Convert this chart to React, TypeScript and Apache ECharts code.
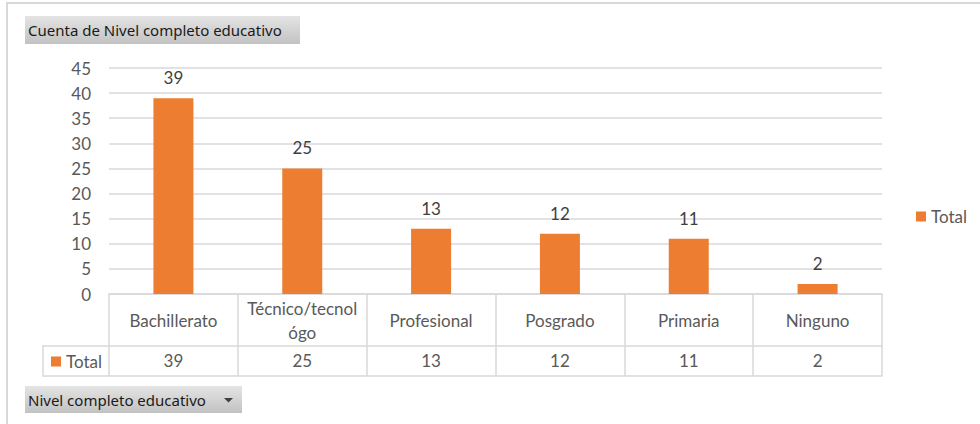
import React, { useEffect, useRef } from "react";
import * as echarts from "echarts";

const categories = ["Bachillerato", "Técnico/tecnológo", "Profesional", "Posgrado", "Primaria", "Ninguno"];
const totals = [39, 25, 13, 12, 11, 2];
const seriesName = "Total";
const yMin = 0;
const yMax = 45;
const yInterval = 5;
const fieldTitle = "Cuenta de Nivel completo educativo";
const axisFieldTitle = "Nivel completo educativo";

const FONT = "Lato, 'Liberation Sans', sans-serif";
const UI_FONT = "'Noto Sans', 'Open Sans', sans-serif";
const GRID_COLOR = "#d9d9d9";
const TEXT_COLOR = "#595959";
const FS = 17;

export default function App() {
  const ref = useRef<HTMLDivElement>(null);

  useEffect(() => {
    if (!ref.current) return;
    const chart = echarts.init(ref.current, undefined, { renderer: "svg" });
    const btnGradient = new echarts.graphic.LinearGradient(0, 0, 0, 1, [
      { offset: 0, color: "#e4e4e4" },
      { offset: 1, color: "#c2c2c2" },
    ]);
    const btnGradient2 = new echarts.graphic.LinearGradient(0, 0, 0, 1, [
      { offset: 0, color: "#e4e4e4" },
      { offset: 1, color: "#c2c2c2" },
    ]);
    const lineStyle = { stroke: GRID_COLOR, lineWidth: 1.5 };
    chart.setOption({
      animation: false,
      backgroundColor: "#ffffff",
      textStyle: { fontFamily: FONT },
      grid: { left: 109, right: 98, top: 68, bottom: 130, containLabel: false },
      legend: [
        {
          data: [seriesName],
          left: 911,
          top: 203,
          itemWidth: 10,
          itemHeight: 10,
          icon: "rect",
          textStyle: { fontSize: FS, color: TEXT_COLOR, fontFamily: FONT },
          selectedMode: false,
        },
        {
          data: [seriesName],
          left: 46,
          top: 348,
          itemWidth: 10,
          itemHeight: 10,
          icon: "rect",
          textStyle: { fontSize: FS, color: TEXT_COLOR, fontFamily: FONT },
          selectedMode: false,
        },
      ],
      xAxis: [
        {
          type: "category",
          data: categories,
          position: "bottom",
          axisLine: { show: true, lineStyle: { color: GRID_COLOR, width: 1.5 } },
          axisTick: { show: true, length: 82, lineStyle: { color: GRID_COLOR, width: 1.5 } },
          axisLabel: {
            margin: 26,
            verticalAlign: "middle",
            fontSize: FS,
            lineHeight: 24,
            color: TEXT_COLOR,
            fontFamily: FONT,
            interval: 0,
            formatter: (v: string) => (v === "Técnico/tecnológo" ? "Técnico/tecnol\nógo" : v),
          },
        },
        {
          type: "category",
          data: categories,
          position: "bottom",
          offset: 52,
          axisLine: { show: true, lineStyle: { color: GRID_COLOR, width: 1.5 } },
          axisTick: { show: false },
          axisLabel: {
            margin: 14,
            verticalAlign: "middle",
            fontSize: FS,
            color: TEXT_COLOR,
            fontFamily: FONT,
            interval: 0,
            formatter: (_v: string, i: number) => String(totals[i]),
          },
        },
        {
          type: "category",
          data: categories,
          position: "bottom",
          offset: 82,
          axisLine: { show: true, lineStyle: { color: GRID_COLOR, width: 1.5 } },
          axisTick: { show: false },
          axisLabel: { show: false },
        },
      ],
      yAxis: {
        type: "value",
        min: yMin,
        max: yMax,
        interval: yInterval,
        axisLine: { show: false },
        axisTick: { show: false },
        axisLabel: { fontSize: FS, color: TEXT_COLOR, margin: 18, fontFamily: FONT },
        splitLine: { lineStyle: { color: GRID_COLOR, width: 1.5 } },
      },
      series: [
        {
          name: seriesName,
          type: "bar",
          xAxisIndex: 0,
          data: totals,
          barWidth: 40,
          itemStyle: { color: "#ED7D31" },
          label: {
            show: true,
            position: "top",
            distance: 12,
            fontSize: FS,
            color: "#404040",
            fontFamily: FONT,
          },
        },
      ],
      graphic: [
        {
          type: "rect",
          silent: true,
          z: -10,
          shape: { x: 7, y: 3, width: 1000, height: 500 },
          style: { fill: "none", stroke: GRID_COLOR, lineWidth: 2 },
        },
        {
          type: "rect",
          silent: true,
          shape: { x: 25, y: 16, width: 275, height: 28 },
          style: { fill: btnGradient },
        },
        {
          type: "text",
          silent: true,
          x: 28,
          y: 30,
          style: {
            text: fieldTitle,
            fontSize: 15,
            fontFamily: UI_FONT,
            fill: "#1a1a1a",
            verticalAlign: "middle",
          },
        },
        {
          type: "rect",
          silent: true,
          shape: { x: 25, y: 386, width: 217, height: 27 },
          style: { fill: btnGradient2 },
        },
        {
          type: "text",
          silent: true,
          x: 28,
          y: 400,
          style: {
            text: axisFieldTitle,
            fontSize: 15,
            fontFamily: UI_FONT,
            fill: "#1a1a1a",
            verticalAlign: "middle",
          },
        },
        {
          type: "polygon",
          silent: true,
          shape: { points: [[224, 398], [233, 398], [228.5, 402.5]] },
          style: { fill: "#404040" },
        },
        { type: "line", silent: true, shape: { x1: 43, y1: 346, x2: 109, y2: 346 }, style: lineStyle },
        { type: "line", silent: true, shape: { x1: 43, y1: 376, x2: 109, y2: 376 }, style: lineStyle },
        { type: "line", silent: true, shape: { x1: 43, y1: 345.25, x2: 43, y2: 376.75 }, style: lineStyle },
      ],
    });
    return () => chart.dispose();
  }, []);

  return (
    <div
      ref={ref}
      style={{ position: "fixed", left: 0, top: 0, width: 980, height: 424, background: "#fff" }}
    />
  );
}
